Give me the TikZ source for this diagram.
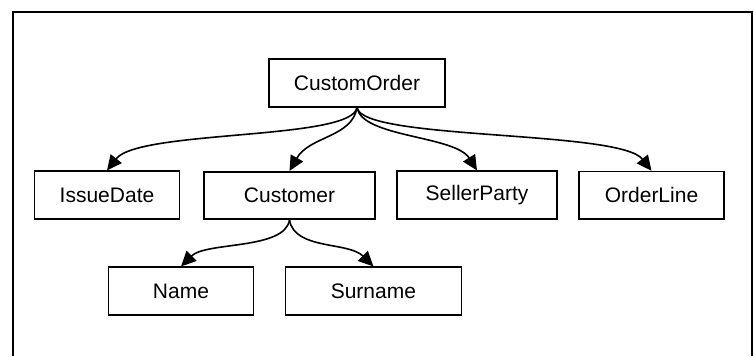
\documentclass[tikz,border=0pt]{standalone}
\usepackage{fontspec}
\setmainfont{Liberation Sans}
\usetikzlibrary{arrows.meta}
\begin{document}
\begin{tikzpicture}[x=1pt,y=-1pt,
  box/.style={draw, line width=1.6pt, minimum height=47.5pt, inner sep=0pt,
    font=\fontsize{21}{25}\selectfont},
  link/.style={line width=1.6pt, -{Triangle[length=15pt,width=14pt]}}]
\useasboundingbox (0,0) rectangle (754,356);
% open frame around the tree
\draw[line width=2pt] (13,356) -- (13,12) -- (752,12) -- (752,356);

% element tree
\node[box, minimum width=176pt] (co) at (357,83)    {CustomOrder};
\node[box, minimum width=145pt] (id) at (107,195)   {IssueDate};
\node[box, minimum width=171pt] (cu) at (289.5,195.5) {Customer};
\node[box, minimum width=160pt] (sp) at (477,195)   {SellerParty};
\node[box, minimum width=145pt] (ol) at (651.5,195.3) {OrderLine};
\node[box, minimum width=145pt] (na) at (181,291)   {Name};
\node[box, minimum width=176pt] (su) at (373.4,291) {Surname};

% parent-child links
\draw[link] (co.south) .. controls +(-5,33) and +(32,-41) .. (id.north);
\draw[link] (co.south) .. controls +(-5,30) and +(20,-35) .. (cu.north);
\draw[link] (co.south) .. controls +(5,30) and +(-22,-35) .. (sp.north);
\draw[link] (co.south) .. controls +(5,33) and +(-32,-41) .. (ol.north);
\draw[link] (cu.south) .. controls +(-5,30) and +(25,-25) .. (na.north);
\draw[link] (cu.south) .. controls +(5,30) and +(-25,-25) .. (su.north);
\end{tikzpicture}
\end{document}
